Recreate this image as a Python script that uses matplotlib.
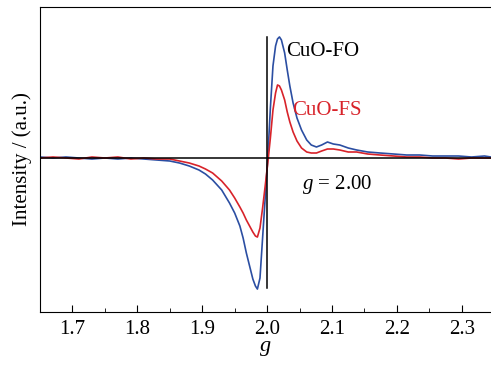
import matplotlib
matplotlib.use("Agg")
import matplotlib.pyplot as plt
from matplotlib.ticker import MultipleLocator

plt.rcParams['font.family'] = ['Liberation Serif', 'DejaVu Serif']
plt.rcParams['mathtext.fontset'] = 'custom'
plt.rcParams['mathtext.it'] = 'Liberation Serif:italic'
plt.rcParams['mathtext.rm'] = 'Liberation Serif'

# g values (shared grid)
g = [1.650, 1.670, 1.690, 1.710, 1.730, 1.750, 1.770, 1.790, 1.810, 1.830,
     1.850, 1.865, 1.880, 1.895, 1.905, 1.916, 1.930, 1.942, 1.950, 1.958,
     1.963, 1.968, 1.973, 1.978, 1.982, 1.985, 1.989, 1.993, 1.997, 2.001,
     2.005, 2.009, 2.013, 2.016, 2.019, 2.022, 2.027, 2.031, 2.035, 2.040,
     2.046, 2.053, 2.061, 2.068, 2.076, 2.084, 2.093, 2.102, 2.112, 2.125,
     2.138, 2.155, 2.174, 2.195, 2.215, 2.235, 2.255, 2.275, 2.295, 2.315,
     2.335, 2.345]

# CuO-FO (blue)
cuo_fo = [1, 0, 1, 0, -1, 0, -1, 0, -1, -2,
          -3, -5, -8, -12, -16, -22, -32, -45, -55, -68,
          -80, -95, -108, -121, -128, -131, -120, -80, -40, 0,
          50, 92, 112, 119, 121, 118, 105, 88, 72, 55,
          40, 28, 18, 13, 11, 13, 16, 14, 13, 10,
          8, 6, 5, 4, 3, 3, 2, 2, 2, 1,
          2, 1]

# CuO-FS (red)
cuo_fs = [0, 1, 0, -1, 1, 0, 1, -1, 0, -1,
          -1, -3, -5, -8, -11, -15, -23, -32, -40, -49,
          -55, -62, -68, -74, -78, -79, -70, -50, -28, -5,
          20, 48, 65, 73, 72, 68, 58, 46, 36, 26,
          17, 10, 6, 5, 5, 7, 9, 9, 8, 6,
          6, 4, 3, 2, 1, 1, 0, 0, -1, 0,
          0, 0]

fig = plt.figure(figsize=(4.91, 3.65), dpi=100)
ax = fig.add_axes([0.0815, 0.145, 0.9185, 0.836])

ax.plot(g, cuo_fo, color='#2b4ea2', lw=1.2)
ax.plot(g, cuo_fs, color='#d8232a', lw=1.2)
ax.axhline(0, color='black', lw=1.1)
ax.plot([2.0, 2.0], [-130, 121], color='black', lw=1.1)

ax.text(2.030, 106, 'CuO-FO', fontsize=15, color='black', va='center')
ax.text(2.038, 47, 'CuO-FS', fontsize=15, color='#d8232a', va='center')
ax.text(2.054, -26, '$g$ = 2.00', fontsize=15, color='black', va='center')

ax.set_xlim(1.65, 2.345)
ax.set_ylim(-154, 151)
ax.xaxis.set_major_locator(MultipleLocator(0.1))
ax.xaxis.set_minor_locator(MultipleLocator(0.05))
ax.tick_params(axis='x', which='both', direction='in', labelsize=15, pad=6)
ax.tick_params(axis='x', which='major', length=5)
ax.tick_params(axis='x', which='minor', length=3)
ax.set_yticks([])
ax.spines['right'].set_visible(False)
ax.set_xlabel('$g$', fontsize=16, labelpad=0)
ax.set_ylabel('Intensity / (a.u.)', fontsize=15, labelpad=6)

plt.savefig('out.png', dpi=100)
